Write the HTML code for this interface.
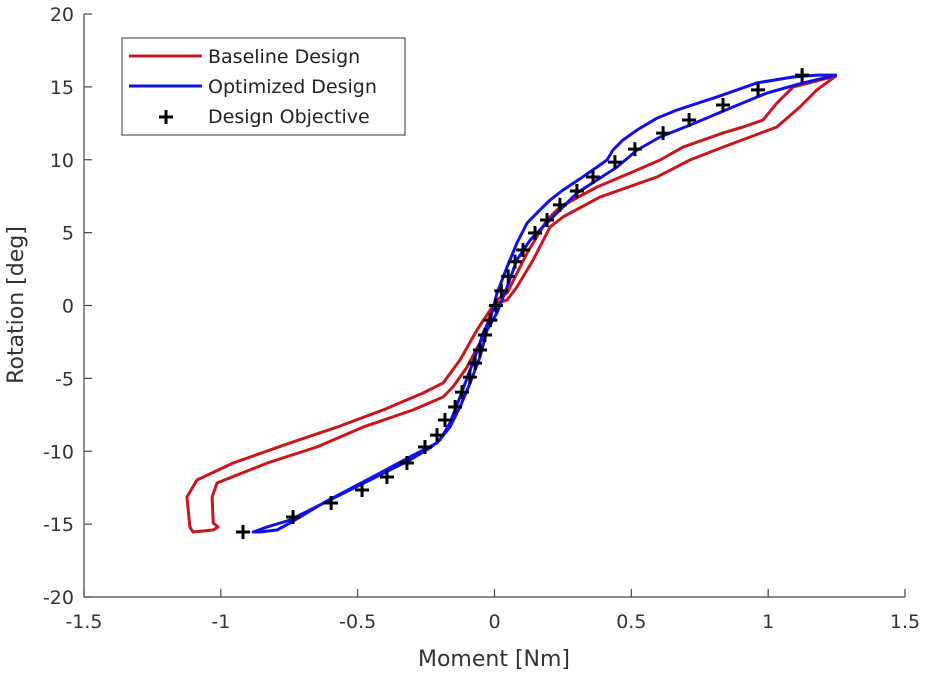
<!DOCTYPE html>
<html><head><meta charset="utf-8"><style>
body{margin:0;background:#fff;}
svg{display:block;font-family:"DejaVu Sans","Liberation Sans",sans-serif;}
</style></head><body>
<svg id="chart" width="931" height="676" viewBox="0 0 931 676">
<g id="axes"></g>
<g id="series"></g>
<text x="494" y="666" font-size="22" fill="#333" text-anchor="middle">Moment [Nm]</text>
<text transform="translate(23,305) rotate(-90)" font-size="22" fill="#333" text-anchor="middle">Rotation [deg]</text>
<g>
<rect x="122" y="38" width="283" height="97" fill="#fff" stroke="#333" stroke-width="1"/>
<line x1="129" y1="56" x2="202" y2="56" stroke="#c8171c" stroke-width="3"/>
<text x="208" y="63" font-size="19" fill="#222">Baseline Design</text>
<line x1="129" y1="86" x2="202" y2="86" stroke="#1010e8" stroke-width="3"/>
<text x="208" y="93" font-size="19" fill="#222">Optimized Design</text>
<path d="M159,117 h14 M166,110 v14" stroke="#000" stroke-width="3"/>
<text x="208" y="123" font-size="19" fill="#222">Design Objective</text>
</g>
</svg>
<script>
const xTicks=[-1.5,-1,-0.5,0,0.5,1,1.5];
const xTickLabels=["-1.5","-1","-0.5","0","0.5","1","1.5"];
const yTicks=[-20,-15,-10,-5,0,5,10,15,20];
const yTickLabels=["-20","-15","-10","-5","0","5","10","15","20"];
const baseM=[1.248,1.178,1.116,1.032,0.934,0.835,0.714,0.594,0.385,0.250,0.203,0.141,0.082,0.046,0.009,-0.016,-0.042,-0.100,-0.152,-0.188,-0.298,-0.480,-0.649,-0.831,-1.014,-1.032,-1.028,-1.010,-1.028,-1.102,-1.113,-1.124,-1.087,-0.956,-0.747,-0.575,-0.407,-0.261,-0.188,-0.126,-0.064,-0.035,0.009,0.046,0.119,0.192,0.239,0.375,0.521,0.605,0.689,0.835,0.908,0.981,1.032,1.091,1.248];
const baseR=[15.75,14.79,13.62,12.25,11.56,10.87,9.98,8.82,7.44,6.07,5.39,3.12,1.27,0.38,0.17,-0.65,-2.16,-4.22,-5.59,-6.28,-7.17,-8.34,-9.71,-10.81,-12.18,-13.14,-14.92,-15.20,-15.40,-15.54,-15.20,-13.14,-11.97,-10.81,-9.43,-8.34,-7.17,-6.00,-5.32,-3.74,-1.68,-0.86,0.38,0.86,3.60,5.87,6.76,8.13,9.30,9.98,10.87,11.84,12.25,12.73,13.89,14.99,15.75];
const optM=[1.251,1.178,1.091,0.959,0.813,0.667,0.594,0.521,0.469,0.433,0.411,0.323,0.250,0.203,0.166,0.119,0.082,0.046,0.009,-0.016,-0.042,-0.053,-0.089,-0.126,-0.163,-0.199,-0.236,-0.309,-0.455,-0.601,-0.747,-0.831,-0.882,-0.857,-0.795,-0.747,-0.626,-0.466,-0.309,-0.210,-0.163,-0.126,-0.089,-0.053,-0.027,0.009,0.046,0.082,0.130,0.177,0.239,0.301,0.375,0.448,0.521,0.605,0.714,0.871,0.996,1.127,1.251];
const optR=[15.81,15.81,15.68,15.27,14.31,13.41,12.86,12.04,11.35,10.67,9.98,8.82,7.92,7.24,6.55,5.66,4.29,2.64,0.86,-0.99,-1.89,-2.57,-4.43,-6.28,-8.06,-9.23,-9.78,-10.60,-11.97,-13.34,-14.72,-15.20,-15.54,-15.54,-15.40,-14.92,-13.55,-11.97,-10.39,-9.43,-8.34,-6.96,-5.32,-3.53,-1.68,-0.51,1.27,3.12,4.49,5.39,6.55,7.72,8.61,9.50,10.67,11.56,12.38,13.62,14.58,15.27,15.81];
const objM=[-0.919,-0.736,-0.597,-0.484,-0.393,-0.320,-0.254,-0.210,-0.181,-0.144,-0.119,-0.090,-0.071,-0.053,-0.035,-0.015,0.005,0.025,0.050,0.075,0.104,0.148,0.192,0.239,0.301,0.360,0.440,0.513,0.616,0.711,0.835,0.963,1.124];
const objR=[-15.54,-14.51,-13.55,-12.66,-11.77,-10.81,-9.71,-8.89,-7.86,-6.96,-5.94,-4.91,-3.95,-3.05,-2.02,-1.0,0.0,1.0,2.0,3.0,3.81,4.97,5.87,6.90,7.86,8.82,9.84,10.73,11.83,12.73,13.76,14.79,15.81];

const X0=84,X1=905,Y0=597,Y1=14;
const sx=v=>X0+(v+1.5)/3*(X1-X0);
const sy=v=>Y0-(v+20)/40*(Y0-Y1);
const NS="http://www.w3.org/2000/svg";
const axes=document.getElementById('axes');
const series=document.getElementById('series');
function mk(tag,attrs,parent){const e=document.createElementNS(NS,tag);for(const k in attrs)e.setAttribute(k,attrs[k]);parent.appendChild(e);return e;}

let ax=mk('path',{d:`M${X0},${Y1}V${Y0}H${X1}`,fill:'none',stroke:'#444','stroke-width':1.2},axes);


xTicks.forEach((t,i)=>{
  const tk=mk('line',{x1:sx(t),x2:sx(t),y1:Y0,y2:Y0-8,stroke:'#444','stroke-width':1.2},axes);
  
  
  const tl=mk('text',{x:sx(t),y:Y0+31,'font-size':19,fill:'#333','text-anchor':'middle'},axes);
  tl.textContent=xTickLabels[i];
  
  
});
yTicks.forEach((t,i)=>{
  const tk=mk('line',{x1:X0,x2:X0+8,y1:sy(t),y2:sy(t),stroke:'#444','stroke-width':1.2},axes);
  
  
  const tl=mk('text',{x:X0-10,y:sy(t)+7,'font-size':19,fill:'#333','text-anchor':'end'},axes);
  tl.textContent=yTickLabels[i];
  
  
});
function line(ms,rs,color,name){
  const d=ms.map((m,i)=>(i?'L':'M')+sx(m).toFixed(1)+','+sy(rs[i]).toFixed(1)).join('');
  const p=mk('path',{d:d,fill:'none',stroke:color,'stroke-width':3,'stroke-linejoin':'round'},series);
  
  
}
line(baseM,baseR,'#c8171c','baseline-design-line');
line(optM,optR,'#1010e8','optimized-design-line');
objM.forEach((m,i)=>{
  const x=sx(m),y=sy(objR[i]);
  const p=mk('path',{d:`M${x-7},${y}h14M${x},${y-7}v14`,stroke:'#000','stroke-width':3},series);
  
  
});
</script>
</body></html>
